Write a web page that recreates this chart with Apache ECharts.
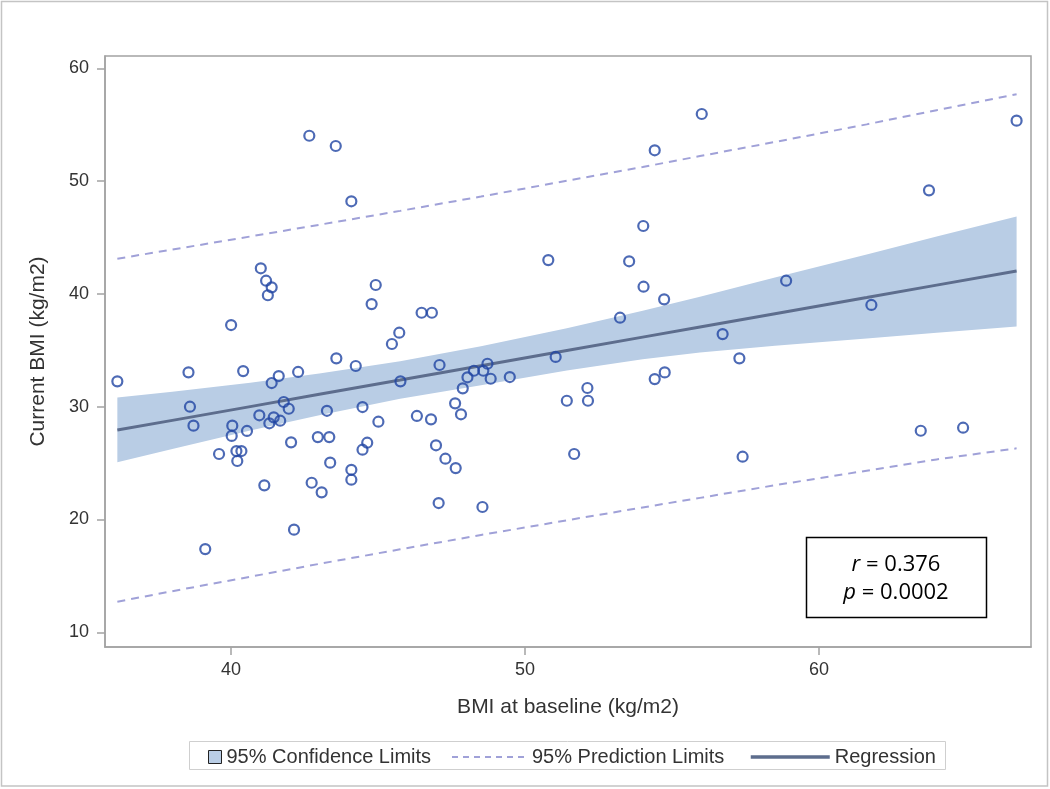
<!DOCTYPE html>
<html><head><meta charset="utf-8">
<script src="https://cdn.jsdelivr.net/npm/echarts@6/dist/echarts.min.js"></script>
<style>html,body{margin:0;padding:0;background:#fff}#c{width:1050px;height:789px}</style>
</head><body><div id="c"></div>
<script>
// Observed data (BMI at baseline, current BMI)
const bmiBaseline = [36.13,38.55,38.60,38.72,39.12,39.59,40.00,40.04,40.02,40.18,40.35,40.21,40.41,40.54,40.96,41.01,41.19,41.38,41.25,41.13,41.38,41.45,41.30,41.62,41.67,41.79,41.96,42.04,42.14,42.28,42.66,42.74,42.95,43.08,43.26,43.34,43.37,43.56,43.58,44.09,44.09,44.09,44.24,44.47,44.47,44.63,44.78,44.92,45.01,45.47,45.72,45.76,46.32,46.48,46.83,46.80,46.97,47.06,47.09,47.29,47.62,47.64,47.82,47.88,48.04,48.26,48.58,48.55,48.72,48.83,49.48,50.79,51.04,51.42,51.67,52.12,52.14,53.23,53.54,54.02,54.03,54.41,54.41,54.73,54.75,56.01,56.72,57.29,57.40,58.88,61.78,63.46,63.74,64.90,66.72];
const bmiCurrent = [32.25,33.05,30.00,28.32,17.38,25.81,37.24,28.32,27.41,26.07,26.07,25.19,33.16,27.85,29.24,42.27,41.17,40.58,39.88,23.03,32.10,29.06,28.53,32.72,28.76,30.42,29.82,26.84,19.10,33.08,54.02,23.26,27.31,22.41,29.64,27.31,25.04,53.11,34.29,48.21,24.41,23.53,33.61,29.97,26.19,26.81,39.10,40.79,28.67,35.56,36.56,32.25,29.18,38.33,38.33,28.88,26.58,21.46,33.70,25.39,30.30,24.56,29.33,31.63,32.61,33.19,33.19,21.11,33.81,32.48,32.63,43.00,34.41,30.53,25.81,31.66,30.53,37.89,42.89,46.02,40.64,52.73,32.45,39.52,33.04,55.95,36.44,34.29,25.57,41.17,39.02,27.87,49.18,28.14,55.36];

// Fitted curves
const fitX      = [36.13,38.00,40.65,43.00,45.75,48.50,51.42,54.00,55.95,58.50,61.62,64.00,66.72];
const fitY      = [27.93,28.79,30.01,31.10,32.36,33.63,34.98,36.17,37.07,38.24,39.68,40.78,42.03];
const ciUpper   = [30.81,31.33,32.13,32.95,34.02,35.35,36.95,38.50,39.75,41.45,43.49,45.10,46.87];
const ciLower   = [25.07,26.25,27.90,29.25,30.70,31.90,33.20,34.20,34.80,35.40,36.05,36.55,37.12];
const predUpper = [43.12,43.93,45.09,46.13,47.36,48.63,50.03,51.25,52.22,53.47,55.03,56.29,57.70];
const predLower = [12.72,13.65,14.93,16.07,17.36,18.63,19.93,21.07,21.92,23.04,24.33,25.33,26.31];

const xTicks = [40,50,60];
const yTicks = [10,20,30,40,50,60];
const legendNames = ['95% Confidence Limits','95% Prediction Limits','Regression'];
const rValue = '0.376';
const pValue = '0.0002';

const chart = echarts.init(document.getElementById('c'), null, {renderer:'canvas'});
const FONT = '"Liberation Sans", Arial, sans-serif';
const axisGray = '#a3a3a3';
const noSymbol = {color:'rgba(0,0,0,0)', borderColor:'rgba(0,0,0,0)', borderWidth:0};

const option = {
  backgroundColor: '#fff',
  animation: false,
  grid: {left:105, top:56, right:19, bottom:142, show:true, borderColor:axisGray, borderWidth:1.5, backgroundColor:'#fff'},
  xAxis: {
    type:'value', min:35.71, max:67.21,
    name:'BMI at baseline (kg/m2)', nameLocation:'middle', nameGap:50,
    nameTextStyle:{fontFamily:FONT, fontSize:21, color:'#333'},
    axisLine:{show:true, lineStyle:{color:axisGray, width:1.5}},
    axisTick:{show:true, length:8, customValues:xTicks, lineStyle:{color:axisGray, width:1.5}},
    axisLabel:{customValues:xTicks, margin:14, fontFamily:FONT, fontSize:18, color:'#333'},
    splitLine:{show:false}
  },
  yAxis: {
    type:'value', min:8.70, max:61.09,
    name:'Current BMI (kg/m2)', nameLocation:'middle', nameGap:56,
    nameTextStyle:{fontFamily:FONT, fontSize:21, color:'#333'},
    axisLine:{show:true, lineStyle:{color:axisGray, width:1.5}},
    axisTick:{show:true, length:8, customValues:yTicks, lineStyle:{color:axisGray, width:1.5}},
    axisLabel:{customValues:yTicks, margin:16, fontFamily:FONT, fontSize:18, color:'#333'},
    splitLine:{show:false}
  },
  legend: [
    {left:203, top:742, itemWidth:13, itemHeight:13, itemGap:0, selectedMode:false,
     textStyle:{fontFamily:FONT, fontSize:20, color:'#333'},
     data:[{name:legendNames[0], icon:'rect', itemStyle:{color:'#b9cde5', borderColor:'#222', borderWidth:1}}]},
    {left:446, top:742, itemWidth:75, itemHeight:13, itemGap:0, selectedMode:false,
     textStyle:{fontFamily:FONT, fontSize:20, color:'#333'},
     data:[{name:legendNames[1], itemStyle:noSymbol, lineStyle:{type:[6,5], width:2, color:'#a0a1d8'}}]},
    {left:744, top:742, itemWidth:79, itemHeight:13, itemGap:0, selectedMode:false,
     textStyle:{fontFamily:FONT, fontSize:20, color:'#333'},
     data:[{name:legendNames[2], itemStyle:noSymbol, lineStyle:{width:3.5, color:'#5d6d8d'}}]}
  ],
  series: [
    {
      type:'custom', name:legendNames[0], z:1, silent:true,
      itemStyle:{color:'#b9cde5'},
      data: fitX.map((x,i)=>[x, ciLower[i], ciUpper[i]]),
      encode:{x:0, y:[1,2]},
      renderItem:(params, api)=>{
        if (params.dataIndex !== 0) return null;
        const pts = [];
        for (let i=0;i<fitX.length;i++) pts.push(api.coord([fitX[i], ciUpper[i]]));
        for (let i=fitX.length-1;i>=0;i--) pts.push(api.coord([fitX[i], ciLower[i]]));
        return {type:'polygon', shape:{points:pts}, style:{fill:'#b9cde5'}};
      }
    },
    {
      type:'line', name:legendNames[1], z:2, symbol:'none', silent:true,
      data: fitX.map((x,i)=>[x, predUpper[i]]),
      lineStyle:{color:'#a0a1d8', width:2, type:[8,6]}, itemStyle:{color:'#a0a1d8'}
    },
    {
      type:'line', name:legendNames[1], z:2, symbol:'none', silent:true,
      data: fitX.map((x,i)=>[x, predLower[i]]),
      lineStyle:{color:'#a0a1d8', width:2, type:[8,6]}, itemStyle:{color:'#a0a1d8'}
    },
    {
      type:'line', name:legendNames[2], z:3, symbol:'none', silent:true,
      data: fitX.map((x,i)=>[x, fitY[i]]),
      lineStyle:{color:'#5d6d8d', width:3}, itemStyle:{color:'#5d6d8d'}
    },
    {
      type:'scatter', name:'Observed', z:4, symbol:'circle', symbolSize:10,
      data: bmiBaseline.map((x,i)=>[x, bmiCurrent[i]]),
      itemStyle:{color:'rgba(0,0,0,0)', borderColor:'#2145a3', borderWidth:2.2}
    }
  ],
  graphic: [
    {type:'rect', silent:true, z:0, shape:{x:1.5, y:1.5, width:1046, height:784.5},
     style:{fill:null, stroke:'#c4c4c4', lineWidth:1.5}},
    {type:'rect', silent:true, z:0, shape:{x:189.5, y:741.5, width:756, height:28},
     style:{fill:null, stroke:'#cfcfcf', lineWidth:1}},
    {type:'rect', silent:true, z:10, shape:{x:806.5, y:537.5, width:180, height:80},
     style:{fill:'#fff', stroke:'#000', lineWidth:1.5}},
    {type:'text', silent:true, z:11, x:896, y:565,
     style:{text:'{i|r} = ' + rValue, align:'center', verticalAlign:'middle',
            fontFamily:'"Open Sans", sans-serif', fontSize:22, fill:'#000',
            rich:{i:{fontStyle:'italic', fontFamily:'"Open Sans", sans-serif', fontSize:22, fill:'#000'}}}},
    {type:'text', silent:true, z:11, x:896, y:593,
     style:{text:'{i|p} = ' + pValue, align:'center', verticalAlign:'middle',
            fontFamily:'"Open Sans", sans-serif', fontSize:22, fill:'#000',
            rich:{i:{fontStyle:'italic', fontFamily:'"Open Sans", sans-serif', fontSize:22, fill:'#000'}}}}
  ]
};
chart.setOption(option);
</script>
</body></html>
